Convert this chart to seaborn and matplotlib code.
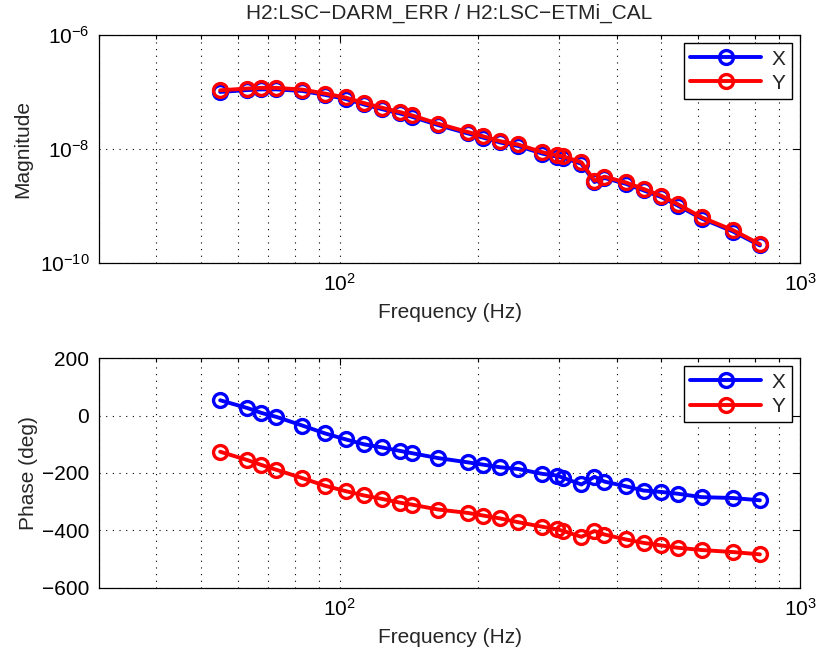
import numpy as np
import pandas as pd
import matplotlib
matplotlib.use('Agg')
import matplotlib.pyplot as plt
import seaborn as sns
from matplotlib.ticker import LogLocator, NullLocator, NullFormatter, FixedLocator

##-------------------------------------------
## data
freq = [55, 63, 67.6, 72.9, 83, 92.8, 103, 112.8, 123.5, 135, 143.5, 163.5, 190, 205, 223,
        244, 275.5, 297, 306, 335, 357.6, 376, 417.7, 457, 500, 542, 612, 715, 818]

mag_x = [1.0e-7, 1.08e-7, 1.11e-7, 1.11e-7, 1.04e-7, 8.9e-8, 7.55e-8, 6.05e-8, 5.0e-8, 4.2e-8,
         3.67e-8, 2.63e-8, 1.87e-8, 1.58e-8, 1.3e-8, 1.13e-8, 8.3e-9, 7.3e-9, 7.0e-9, 5.5e-9,
         2.63e-9, 3.1e-9, 2.46e-9, 1.88e-9, 1.43e-9, 1.02e-9, 6.0e-10, 3.57e-10, 2.03e-10]
mag_y = [1.07e-7, 1.15e-7, 1.18e-7, 1.18e-7, 1.10e-7, 9.4e-8, 8.0e-8, 6.4e-8, 5.3e-8, 4.45e-8,
         3.89e-8, 2.78e-8, 1.98e-8, 1.67e-8, 1.37e-8, 1.2e-8, 8.8e-9, 7.7e-9, 7.4e-9, 5.85e-9,
         2.78e-9, 3.27e-9, 2.6e-9, 1.99e-9, 1.51e-9, 1.08e-9, 6.3e-10, 3.77e-10, 2.14e-10]

phase_x = [53, 26, 9, -5, -35, -62, -83, -100, -111, -123, -131, -148, -163, -171, -180,
           -186, -203, -209, -217, -240, -213, -230, -246, -261, -266, -272, -284, -287, -295]
phase_y = [-126, -155, -172, -189, -218, -244, -263, -278, -290, -303, -310, -327, -339, -348, -358,
           -371, -387, -396, -402, -422, -402, -414, -431, -443, -452, -460, -468, -475, -483]

labels = ['X', 'Y']
colors = ['blue', 'red']

title = 'H2:LSC\u2212DARM_ERR / H2:LSC\u2212ETMi_CAL'

##-------------------------------------------
sns.set_style('white')
plt.rcParams['font.family'] = ['Liberation Sans', 'DejaVu Sans']
plt.rcParams['axes.unicode_minus'] = True
fs = 15

fig = plt.figure(figsize=(8.2, 6.62), dpi=100)
ax1 = fig.add_axes([0.1207, 0.6027, 0.855, 0.3445])
ax2 = fig.add_axes([0.1207, 0.1118, 0.855, 0.3474])

line_kw = dict(marker='o', markersize=10, markerfacecolor='none', markeredgewidth=2.4,
               linewidth=2.8, estimator=None, sort=False)

for mag, lab, c in zip([mag_x, mag_y], labels, colors):
    sns.lineplot(x=freq, y=mag, ax=ax1, color=c, markeredgecolor=c, label=lab, **line_kw)
for ph, lab, c in zip([phase_x, phase_y], labels, colors):
    sns.lineplot(x=freq, y=ph, ax=ax2, color=c, markeredgecolor=c, label=lab, **line_kw)

dots = (0, (1, 5))
for ax in (ax1, ax2):
    ax.set_xscale('log')
    ax.set_xlim(30, 1000)
    ax.xaxis.set_major_locator(FixedLocator([100, 1000]))
    ax.xaxis.set_minor_locator(LogLocator(base=10, subs=np.arange(2, 10), numticks=20))
    ax.xaxis.set_minor_formatter(NullFormatter())
    ax.grid(True, which='major', linestyle=dots, color='black', linewidth=0.8)
    ax.grid(True, which='minor', axis='x', linestyle=dots, color='black', linewidth=0.8)
    ax.tick_params(which='both', direction='in', top=True, right=True, labelsize=fs,
                   colors='black', width=0.8, pad=7)
    ax.tick_params(which='major', length=5)
    ax.tick_params(which='minor', length=3)
    for s in ax.spines.values():
        s.set_color('black')
        s.set_linewidth(0.9)
    ax.set_xlabel('Frequency (Hz)', fontsize=fs, labelpad=6)
    leg = ax.legend(loc='upper right', fontsize=fs, frameon=True, fancybox=False,
                    edgecolor='black', framealpha=1, handlelength=3.4, borderaxespad=0.4,
                    labelspacing=0.25, handletextpad=0.5, borderpad=0.3)
    leg.get_frame().set_linewidth(1.0)

ax1.set_yscale('log')
ax1.set_ylim(1e-10, 1e-6)
ax1.yaxis.set_major_locator(FixedLocator([1e-10, 1e-8, 1e-6]))
ax1.yaxis.set_minor_locator(NullLocator())
ax1.set_ylabel('Magnitude', fontsize=fs, labelpad=5)
ax1.set_title(title, fontsize=fs, pad=12)

ax2.set_ylim(-600, 200)
ax2.set_yticks([-600, -400, -200, 0, 200])
ax2.set_ylabel('Phase (deg)', fontsize=fs, labelpad=3)

fig.savefig('out.png', dpi=100)
